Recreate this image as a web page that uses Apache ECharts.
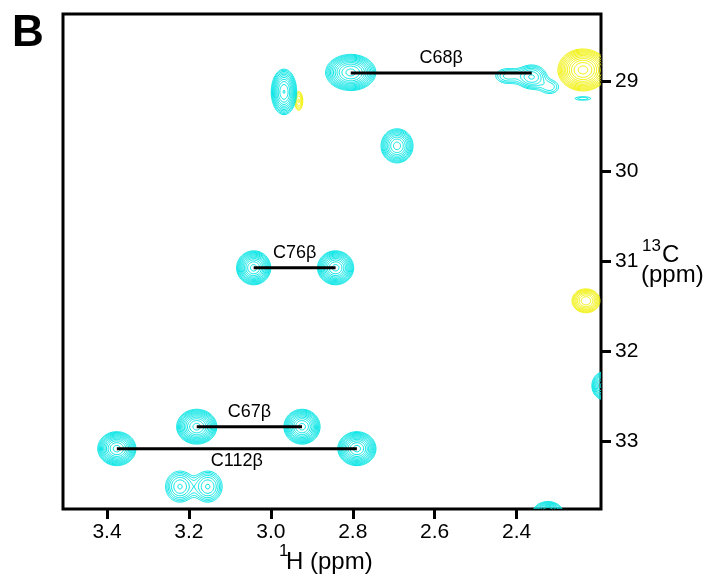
<!DOCTYPE html>
<html>
<head>
<meta charset="utf-8">
<script src="https://cdn.jsdelivr.net/npm/echarts@6/dist/echarts.min.js"></script>
<style>
  html, body { margin: 0; padding: 0; background: #fff; }
  #chart { width: 712px; height: 579px; }
</style>
</head>
<body>
<div id="chart"></div>
<script>
// 刻度
const hTicks = [3.4, 3.2, 3.0, 2.8, 2.6, 2.4];
const cTicks = [29, 30, 31, 32, 33];
const hRange = [2.194, 3.5075];
const cRange = [28.248, 33.752];

// 交叉峰 [1H ppm, 13C ppm, 强度, 线宽H, 线宽C]
const cyanPeaks = [
  [2.805, 28.898, 20, 0.025, 0.082],
  [2.968, 29.114, 14, 0.0135, 0.11],
  [2.363, 28.948, 5, 0.02, 0.074],
  [2.421, 28.937, 2.5, 0.022, 0.06],
  [2.319, 29.06, 2, 0.018, 0.06],
  [2.238, 29.187, 1.6, 0.02, 0.02],
  [2.692, 29.714, 12, 0.0175, 0.085],
  [3.042, 31.07, 20, 0.017, 0.077],
  [2.842, 31.07, 20, 0.018, 0.077],
  [2.187, 32.381, 10, 0.0136, 0.072],
  [3.181, 32.837, 20, 0.02, 0.079],
  [2.924, 32.837, 20, 0.018, 0.079],
  [3.376, 33.081, 20, 0.019, 0.077],
  [2.790, 33.081, 20, 0.019, 0.077],
  [3.222, 33.503, 5, 0.0195, 0.096],
  [3.154, 33.503, 5, 0.0195, 0.096],
  [2.3236, 33.792, 10, 0.017, 0.057]
];
const yellowPeaks = [
  [2.932, 29.214, 3, 0.0066, 0.071],
  [2.238, 28.87, 20, 0.025, 0.095],
  [2.2307, 31.437, 8, 0.0167, 0.065]
];

// 归属连线
const assignNames = ['C68β', 'C76β', 'C67β', 'C112β'];
const assignH1 = [2.805, 3.042, 3.181, 3.376];
const assignH2 = [2.363, 2.842, 2.924, 2.790];
const assignC = [28.905, 31.07, 32.837, 33.081];
const assignSide = ['top', 'top', 'top', 'bottom'];

// 等高线 (marching squares), 结果为 ppm 坐标的线段
const levels = [];
for (let L = 1; L < 25; L *= 1.3) levels.push(L);

function contourSegments(peaks) {
  const nx = 560, ny = 520;
  const h0 = hRange[0], c0 = cRange[0];
  const dh = (hRange[1] - h0) / nx, dc = (cRange[1] - c0) / ny;
  const W = nx + 1;
  const f = new Float32Array(W * (ny + 1));
  peaks.forEach(function (p) {
    const ph = p[0], pc = p[1], amp = p[2], sh = p[3], sc = p[4];
    const i0 = Math.max(0, Math.floor((ph - 5 * sh - h0) / dh));
    const i1 = Math.min(nx, Math.ceil((ph + 5 * sh - h0) / dh));
    const j0 = Math.max(0, Math.floor((pc - 5 * sc - c0) / dc));
    const j1 = Math.min(ny, Math.ceil((pc + 5 * sc - c0) / dc));
    for (let j = j0; j <= j1; j++) {
      const u = (c0 + j * dc - pc) / sc;
      for (let i = i0; i <= i1; i++) {
        const v = (h0 + i * dh - ph) / sh;
        f[j * W + i] += amp * Math.exp(-0.5 * (u * u + v * v));
      }
    }
  });
  const segs = [];
  for (let j = 0; j < ny; j++) {
    for (let i = 0; i < nx; i++) {
      const a = f[j * W + i], b = f[j * W + i + 1];
      const c = f[(j + 1) * W + i + 1], d = f[(j + 1) * W + i];
      const mx = Math.max(a, b, c, d);
      if (mx < levels[0]) continue;
      const mn = Math.min(a, b, c, d);
      for (let k = 0; k < levels.length; k++) {
        const L = levels[k];
        if (L > mx) break;
        if (L <= mn) continue;
        const pts = [];
        if ((a >= L) !== (b >= L)) { const t = (L - a) / (b - a); pts.push([i + t, j]); } else pts.push(null);
        if ((b >= L) !== (c >= L)) { const t = (L - b) / (c - b); pts.push([i + 1, j + t]); } else pts.push(null);
        if ((c >= L) !== (d >= L)) { const t = (L - d) / (c - d); pts.push([i + t, j + 1]); } else pts.push(null);
        if ((d >= L) !== (a >= L)) { const t = (L - a) / (d - a); pts.push([i, j + t]); } else pts.push(null);
        const found = pts.filter(function (q) { return q; });
        let pairs;
        if (found.length === 2) pairs = [[found[0], found[1]]];
        else if (found.length === 4) {
          const centerAbove = (a + b + c + d) / 4 >= L;
          if ((a >= L) === centerAbove) pairs = [[pts[0], pts[1]], [pts[2], pts[3]]];
          else pairs = [[pts[3], pts[0]], [pts[1], pts[2]]];
        } else continue;
        pairs.forEach(function (pr) {
          segs.push(h0 + pr[0][0] * dh, c0 + pr[0][1] * dc, h0 + pr[1][0] * dh, c0 + pr[1][1] * dc);
        });
      }
    }
  }
  return segs;
}

const cyanSegs = contourSegments(cyanPeaks);
const yellowSegs = contourSegments(yellowPeaks);

function contourRenderer(segs, color) {
  return function (params, api) {
    if (params.dataIndex !== 0) return;
    const parts = [];
    for (let k = 0; k < segs.length; k += 4) {
      const p1 = api.coord([segs[k], segs[k + 1]]);
      const p2 = api.coord([segs[k + 2], segs[k + 3]]);
      parts.push('M' + p1[0].toFixed(2) + ' ' + p1[1].toFixed(2) + 'L' + p2[0].toFixed(2) + ' ' + p2[1].toFixed(2));
    }
    return {
      type: 'path',
      shape: { pathData: parts.join('') },
      style: { fill: 'none', stroke: color, lineWidth: 1 }
    };
  };
}

const FONT = 'Liberation Sans, Arial, Helvetica, sans-serif';

const chart = echarts.init(document.getElementById('chart'));

const series = [
  {
    type: 'custom',
    renderItem: contourRenderer(yellowSegs, '#f2f200'),
    data: yellowPeaks,
    encode: { x: 0, y: 1 },
    silent: true
  },
  {
    type: 'custom',
    renderItem: contourRenderer(cyanSegs, '#00e6e6'),
    data: cyanPeaks,
    encode: { x: 0, y: 1 },
    silent: true
  }
];

assignNames.forEach(function (name, i) {
  series.push({
    type: 'line',
    data: [[assignH1[i], assignC[i]], [assignH2[i], assignC[i]]],
    symbol: 'none',
    lineStyle: { color: '#000', width: 3 },
    z: 5,
    silent: true
  });
  series.push({
    type: 'scatter',
    data: [[(assignH1[i] + assignH2[i]) / 2, assignC[i]]],
    symbolSize: 0,
    itemStyle: { opacity: 1 },
    label: {
      show: true,
      formatter: name,
      position: assignSide[i],
      distance: assignSide[i] === 'top' ? 6 : 3,
      color: '#000',
      opacity: 1,
      fontSize: 18,
      fontFamily: FONT
    },
    z: 6,
    silent: true
  });
});

const option = {
  animation: false,
  backgroundColor: '#fff',
  grid: {
    left: 63, top: 14, width: 538, height: 495,
    show: true, borderColor: '#000', borderWidth: 3, backgroundColor: 'transparent'
  },
  xAxis: {
    type: 'value',
    inverse: true,
    min: hRange[0],
    max: hRange[1],
    axisLine: { show: false },
    splitLine: { show: false },
    axisTick: {
      show: true, length: 10, customValues: hTicks,
      lineStyle: { color: '#000', width: 3 }
    },
    axisLabel: {
      customValues: hTicks,
      formatter: function (v) { return v.toFixed(1); },
      color: '#000', fontSize: 21, fontFamily: FONT, margin: 13
    }
  },
  yAxis: {
    type: 'value',
    position: 'right',
    inverse: true,
    min: cRange[0],
    max: cRange[1],
    axisLine: { show: false },
    splitLine: { show: false },
    axisTick: {
      show: true, length: 10, customValues: cTicks,
      lineStyle: { color: '#000', width: 3 }
    },
    axisLabel: {
      customValues: cTicks,
      color: '#000', fontSize: 21, fontFamily: FONT, margin: 14
    }
  },
  graphic: [
    { type: 'text', left: 12, top: 12, style: { text: 'B', font: 'bold 44px ' + FONT, fill: '#000' } },
    { type: 'text', x: 279, y: 551, style: { text: '1', font: '17px ' + FONT, fill: '#000', textVerticalAlign: 'middle' } },
    { type: 'text', x: 286, y: 562, style: { text: 'H (ppm)', font: '24px ' + FONT, fill: '#000', textVerticalAlign: 'middle' } },
    { type: 'text', x: 642, y: 246, style: { text: '13', font: '17px ' + FONT, fill: '#000', textVerticalAlign: 'middle' } },
    { type: 'text', x: 662, y: 255, style: { text: 'C', font: '24px ' + FONT, fill: '#000', textVerticalAlign: 'middle' } },
    { type: 'text', x: 641, y: 275, style: { text: '(ppm)', font: '24px ' + FONT, fill: '#000', textVerticalAlign: 'middle' } }
  ],
  series: series
};

chart.setOption(option);
window.addEventListener('resize', function () {
  chart.resize();
});
</script>
</body>
</html>
